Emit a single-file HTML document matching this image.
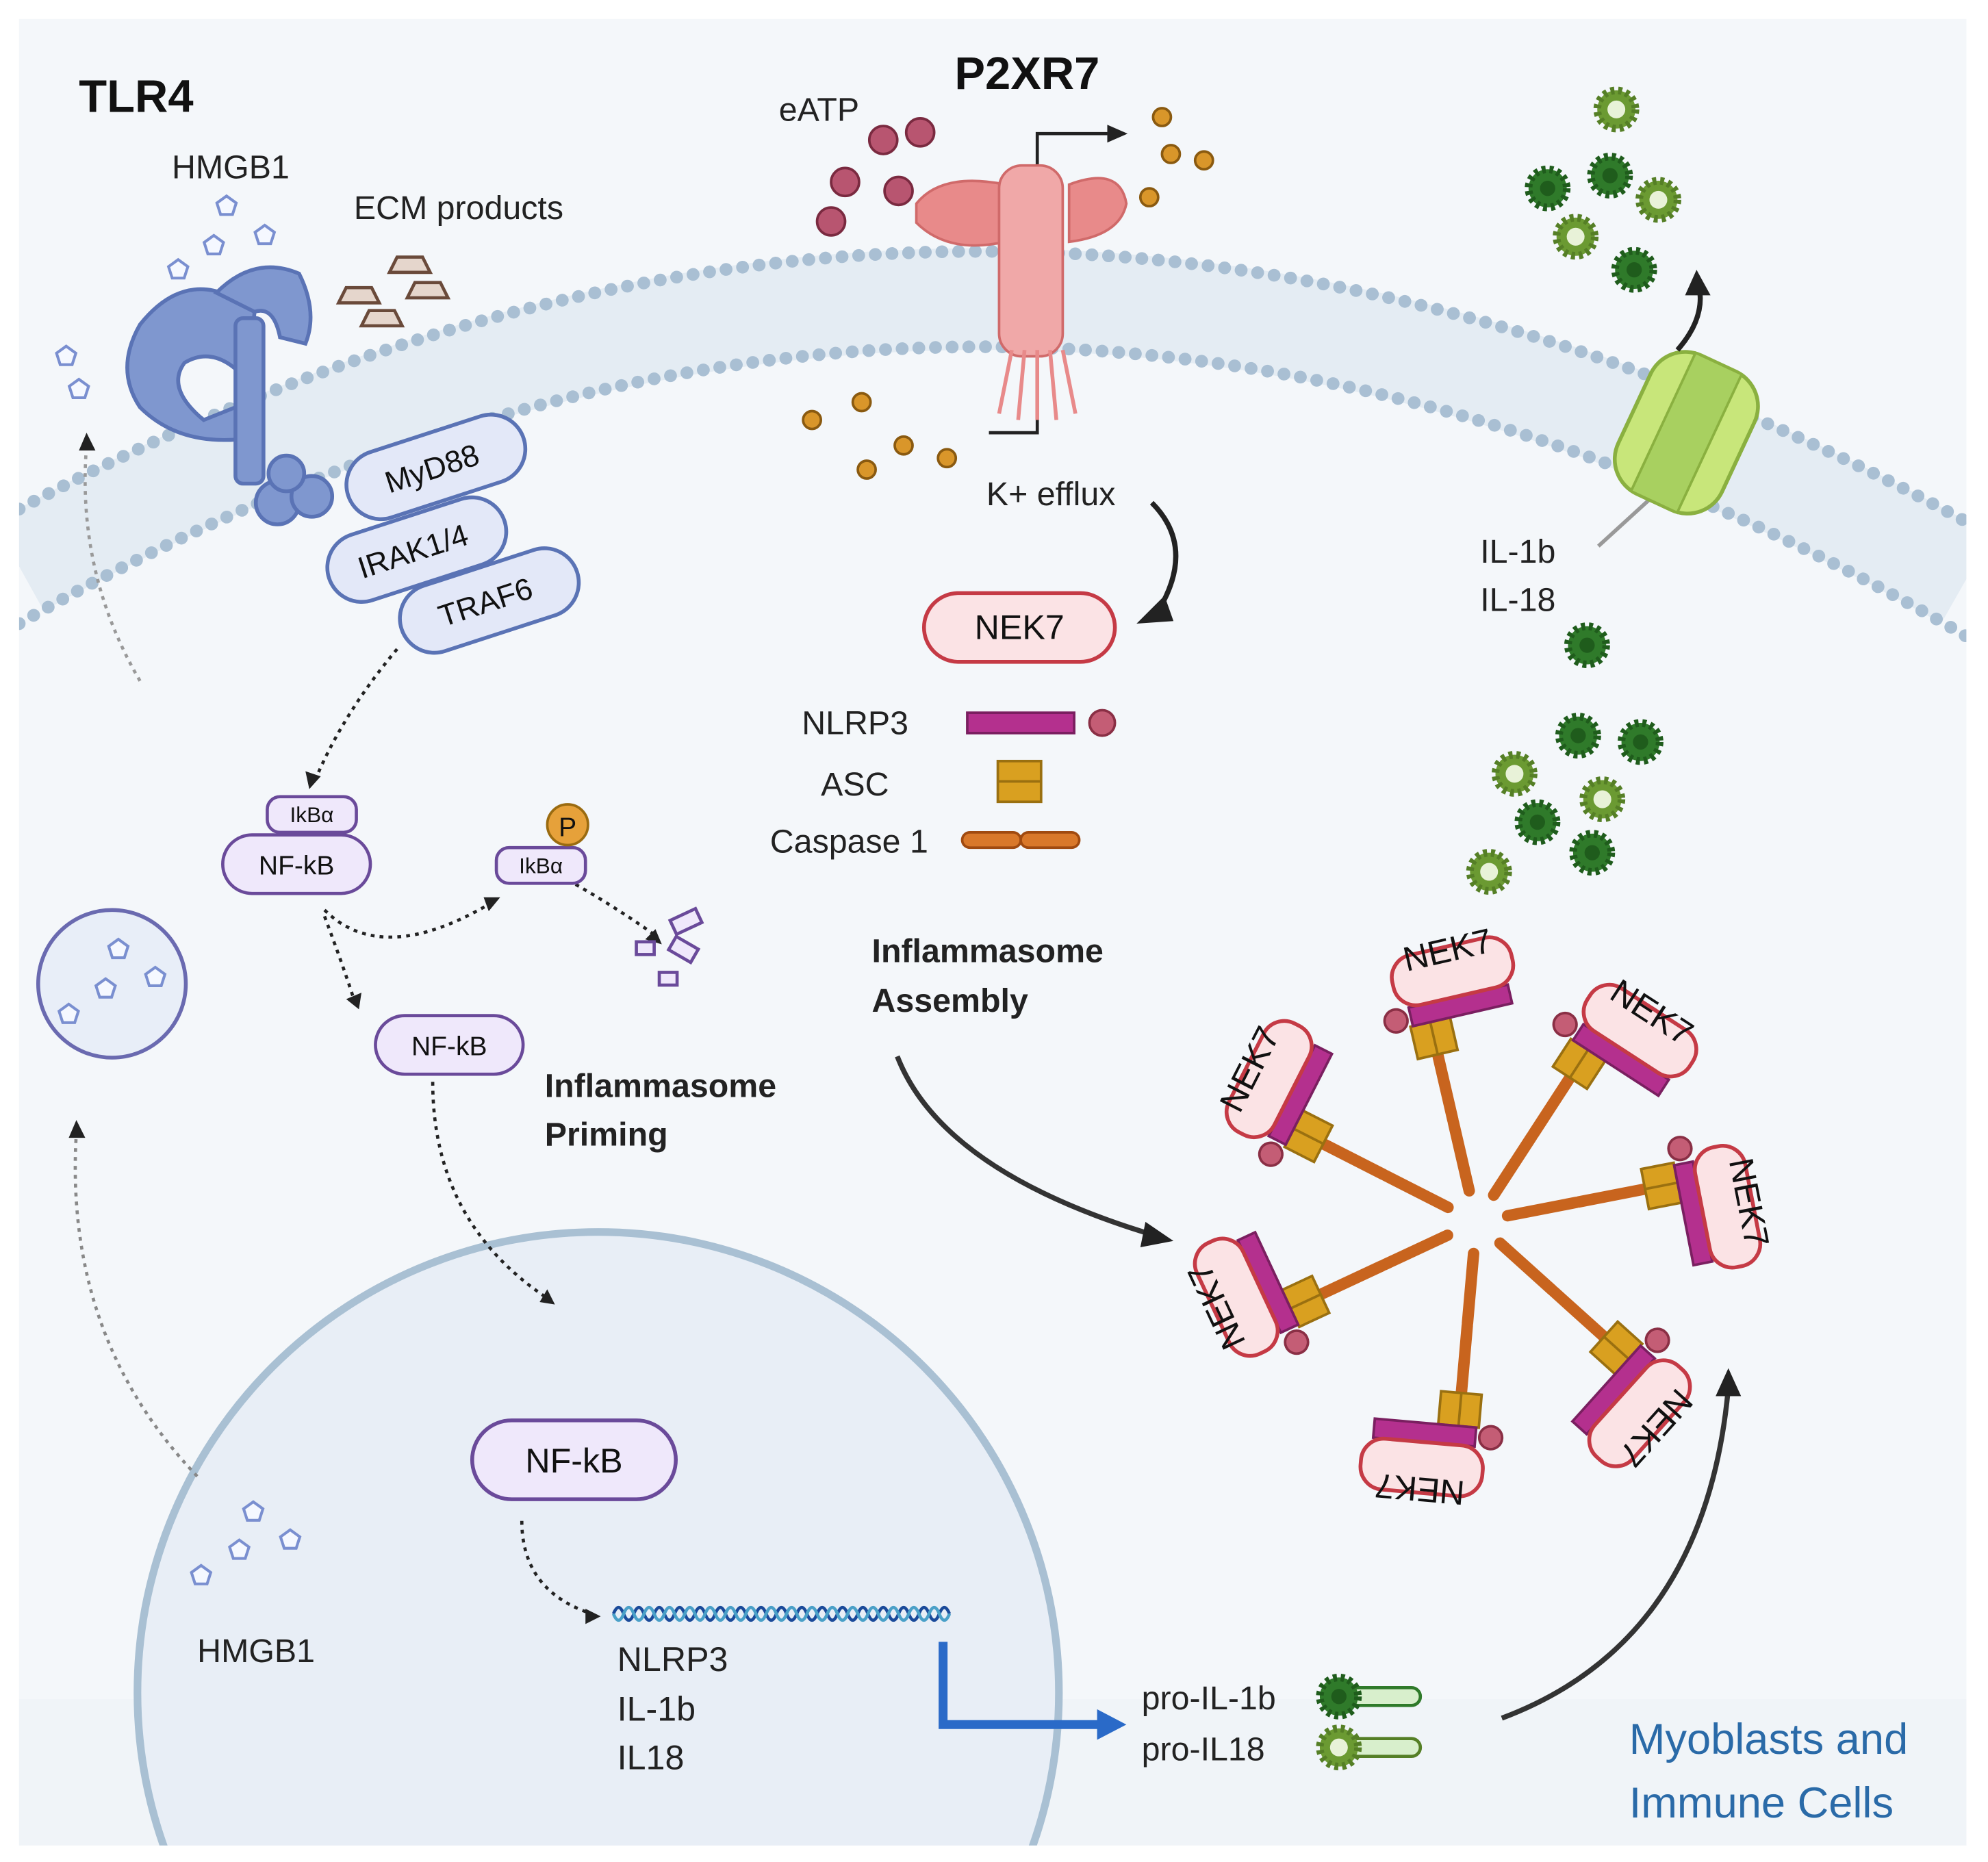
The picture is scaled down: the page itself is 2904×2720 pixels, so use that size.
<!DOCTYPE html>
<html><head><meta charset="utf-8"><style>
html,body{margin:0;padding:0;background:#fff;width:2904px;height:2720px;overflow:hidden;}
svg{display:block;}
text{font-family:"Liberation Sans",sans-serif;}
</style></head><body>
<svg width="2904" height="2720" viewBox="0 0 1562 1463" preserveAspectRatio="none" xmlns="http://www.w3.org/2000/svg">
<defs>
<clipPath id="box"><rect x="15" y="15" width="1530" height="1435"/></clipPath>
<g id="cytoD"><circle r="15" fill="#2f7a2a" stroke="#1f5c1c" stroke-width="6" stroke-dasharray="3 3"/><circle r="6" fill="#1f5c1c"/></g>
<g id="cytoL"><circle r="15" fill="#6b9a32" stroke="#557f26" stroke-width="6" stroke-dasharray="3 3"/><circle r="7" fill="#e8f2d8"/></g>
<g id="pent"><polygon points="0,-8 7.6,-2.5 4.7,6.5 -4.7,6.5 -7.6,-2.5" fill="#f5f8ff" stroke="#7a8fd0" stroke-width="2.2"/></g>
<g id="arm">
  <line x1="25" y1="0" x2="80" y2="0" stroke="#c8641e" stroke-width="9" stroke-linecap="round"/>
  <line x1="82" y1="0" x2="135" y2="0" stroke="#c8641e" stroke-width="9" stroke-linecap="round"/>
  <rect x="135" y="-16" width="26" height="32" fill="#d9a020" stroke="#9a7010" stroke-width="2"/>
  <line x1="135" y1="0" x2="161" y2="0" stroke="#9a7010" stroke-width="2"/>
  <rect x="161" y="-14" width="15" height="80" fill="#b4308e" stroke="#7a1f60" stroke-width="2"/>
  <rect x="176" y="-22" width="40" height="96" rx="18" fill="#fbe3e5" stroke="#c53a45" stroke-width="3"/>
  <circle cx="168" cy="-26" r="9" fill="#c45d75" stroke="#8a2f45" stroke-width="2"/>
  <text transform="translate(204,26) rotate(90)" text-anchor="middle" font-size="27" fill="#111">NEK7</text>
</g>
</defs>
<rect x="15" y="15" width="1530" height="1435" fill="#f4f7fa"/>
<rect x="15" y="1335" width="1530" height="115" fill="#f0f4f8"/>
<g clip-path="url(#box)">
<path d="M15,445 Q780,20 1545,455" fill="none" stroke="#e4ecf3" stroke-width="80"/>
<path d="M15,400 Q780,-10 1545,410" fill="none" stroke="#a9bfd3" stroke-width="10" stroke-linecap="round" stroke-dasharray="0.1 13"/>
<path d="M15,490 Q780,50 1545,500" fill="none" stroke="#a9bfd3" stroke-width="10" stroke-linecap="round" stroke-dasharray="0.1 13"/>
<circle cx="470" cy="1330" r="362" fill="#e8eef6" stroke="#a9c0d3" stroke-width="6"/>
</g>

<text x="62" y="88" font-size="36" font-weight="bold" fill="#111">TLR4</text>
<text x="135" y="140" font-size="26" fill="#222">HMGB1</text>
<text x="278" y="172" font-size="26" fill="#222">ECM products</text>
<use href="#pent" x="178" y="162"/><use href="#pent" x="168" y="193"/><use href="#pent" x="208" y="185"/><use href="#pent" x="140" y="212"/>
<use href="#pent" x="52" y="280"/><use href="#pent" x="62" y="306"/>
<g fill="#e5d6cc" stroke="#6a4a3a" stroke-width="2.5">
<polygon points="312,202 332,202 338,214 306,214"/><polygon points="272,226 292,226 298,238 266,238"/>
<polygon points="326,222 346,222 352,234 320,234"/><polygon points="290,244 310,244 316,256 284,256"/>
</g>
<g fill="#7f97cf" stroke="#5a73b5" stroke-width="3">
<path d="M110,255 Q150,205 200,245 L195,300 Q170,270 145,285 Q130,305 160,330 L185,320 L190,345 Q140,350 110,320 Q90,290 110,255Z"/>
<path d="M170,230 Q200,200 235,215 Q250,245 240,270 L220,265 Q215,240 200,245Z"/>
<rect x="185" y="250" width="22" height="130" rx="6"/>
<circle cx="218" cy="395" r="17"/><circle cx="245" cy="390" r="16"/><circle cx="225" cy="372" r="14"/>
</g>
<g stroke="#5a73b5" stroke-width="3">
<rect x="270" y="340" width="145" height="54" rx="27" fill="#e3e8f8" transform="rotate(-18 342 367)"/>
<rect x="255" y="405" width="145" height="54" rx="27" fill="#e3e8f8" transform="rotate(-18 327 432)"/>
<rect x="312" y="445" width="145" height="54" rx="27" fill="#e3e8f8" transform="rotate(-18 384 472)"/>
</g>
<text transform="translate(342,376) rotate(-18)" text-anchor="middle" font-size="24" fill="#111">MyD88</text>
<text transform="translate(327,441) rotate(-18)" text-anchor="middle" font-size="24" fill="#111">IRAK1/4</text>
<text transform="translate(384,481) rotate(-18)" text-anchor="middle" font-size="24" fill="#111">TRAF6</text>

<g fill="none" stroke="#222" stroke-width="2.5" stroke-dasharray="3 4">
<path d="M312,510 Q270,560 248,612"/>
<path d="M110,535 Q60,450 68,350" stroke="#999"/>
<path d="M255,715 Q300,760 385,710"/>
<path d="M255,720 Q270,760 278,785"/>
<path d="M440,688 Q480,710 515,735"/>
<path d="M340,850 Q340,960 430,1020"/>
<path d="M155,1160 Q50,1050 60,890" stroke="#888"/>
<path d="M410,1195 Q410,1250 465,1268"/>
</g>
<g fill="#222">
<polygon points="243,620 240,606 252,610"/><polygon points="68,340 62,354 75,354"/>
<polygon points="393,705 380,705 384,716"/><polygon points="282,793 272,785 284,780"/>
<polygon points="520,742 507,738 515,730"/><polygon points="436,1025 424,1023 430,1013"/>
<polygon points="60,880 54,894 67,894"/><polygon points="472,1270 460,1264 460,1276"/>
</g>

<rect x="210" y="626" width="70" height="28" rx="10" fill="#efe8fb" stroke="#6a4a9a" stroke-width="2.5"/>
<text x="245" y="646" text-anchor="middle" font-size="17" fill="#111">IkBα</text>
<rect x="175" y="656" width="116" height="46" rx="23" fill="#efe8fb" stroke="#6a4a9a" stroke-width="2.5"/>
<text x="233" y="687" text-anchor="middle" font-size="21" fill="#111">NF-kB</text>
<rect x="390" y="666" width="70" height="28" rx="10" fill="#efe8fb" stroke="#6a4a9a" stroke-width="2.5"/>
<text x="425" y="686" text-anchor="middle" font-size="17" fill="#111">IkBα</text>
<circle cx="446" cy="648" r="16" fill="#e6a13a" stroke="#9a6b10" stroke-width="2"/>
<text x="446" y="657" text-anchor="middle" font-size="21" fill="#111">P</text>
<g fill="#efe8fb" stroke="#6a4a9a" stroke-width="2.5">
<rect x="528" y="718" width="22" height="12" transform="rotate(-25 539 724)"/>
<rect x="500" y="740" width="14" height="10"/><rect x="527" y="740" width="20" height="12" transform="rotate(30 537 746)"/>
<rect x="518" y="764" width="14" height="10"/>
</g>
<rect x="295" y="798" width="116" height="46" rx="23" fill="#efe8fb" stroke="#6a4a9a" stroke-width="2.5"/>
<text x="353" y="829" text-anchor="middle" font-size="21" fill="#111">NF-kB</text>
<text x="428" y="862" font-size="26" font-weight="bold" fill="#222">Inflammasome</text>
<text x="428" y="900" font-size="26" font-weight="bold" fill="#222">Priming</text>

<circle cx="88" cy="773" r="58" fill="#e8eef8" stroke="#6a6ab0" stroke-width="3"/>
<use href="#pent" x="93" y="746"/><use href="#pent" x="83" y="777"/><use href="#pent" x="122" y="768"/><use href="#pent" x="54" y="797"/>

<rect x="371" y="1116" width="160" height="62" rx="31" fill="#efe8fb" stroke="#6a4a9a" stroke-width="3"/>
<text x="451" y="1157" text-anchor="middle" font-size="27" fill="#111">NF-kB</text>
<path d="M482,1268 q4,-10 8,0 t8,0 t8,0 t8,0 t8,0 t8,0 t8,0 t8,0 t8,0 t8,0 t8,0 t8,0 t8,0 t8,0 t8,0 t8,0 t8,0 t8,0 t8,0 t8,0 t8,0 t8,0 t8,0 t8,0 t8,0 t8,0 t8,0 t8,0 t8,0 t8,0 t8,0 t8,0 t8,0" fill="none" stroke="#1a4a9a" stroke-width="2.5"/>
<path d="M482,1268 q4,10 8,0 t8,0 t8,0 t8,0 t8,0 t8,0 t8,0 t8,0 t8,0 t8,0 t8,0 t8,0 t8,0 t8,0 t8,0 t8,0 t8,0 t8,0 t8,0 t8,0 t8,0 t8,0 t8,0 t8,0 t8,0 t8,0 t8,0 t8,0 t8,0 t8,0 t8,0 t8,0 t8,0" fill="none" stroke="#4aa0c8" stroke-width="2.5"/>
<text x="485" y="1313" font-size="27" fill="#222">NLRP3</text>
<text x="485" y="1352" font-size="27" fill="#222">IL-1b</text>
<text x="485" y="1390" font-size="27" fill="#222">IL18</text>
<use href="#pent" x="199" y="1188"/><use href="#pent" x="188" y="1218"/><use href="#pent" x="228" y="1210"/><use href="#pent" x="158" y="1238"/>
<text x="155" y="1306" font-size="26" fill="#222">HMGB1</text>
<path d="M741,1290 L741,1355 L865,1355" fill="none" stroke="#2a6ac8" stroke-width="7"/>
<polygon points="885,1355 862,1343 862,1367" fill="#2a6ac8"/>
<text x="897" y="1343" font-size="26" fill="#222">pro-IL-1b</text>
<text x="897" y="1383" font-size="26" fill="#222">pro-IL18</text>
<rect x="1060" y="1326" width="56" height="14" rx="7" fill="#d8efcc" stroke="#2f7a2a" stroke-width="2.5"/>
<use href="#cytoD" x="1052" y="1333"/>
<rect x="1060" y="1366" width="56" height="14" rx="7" fill="#d8efcc" stroke="#557f26" stroke-width="2.5"/>
<use href="#cytoL" x="1052" y="1373"/>
<text x="1280" y="1378" font-size="34" fill="#2a6aa8">Myoblasts and</text>
<text x="1280" y="1428" font-size="34" fill="#2a6aa8">Immune Cells</text>
<path d="M1180,1350 Q1340,1290 1358,1090" fill="none" stroke="#333" stroke-width="4"/>
<polygon points="1358,1075 1348,1097 1368,1097" fill="#222"/>

<text x="750" y="70" font-size="36" font-weight="bold" fill="#111">P2XR7</text>
<text x="612" y="95" font-size="26" fill="#222">eATP</text>
<g fill="#b85570" stroke="#7a2a40" stroke-width="2">
<circle cx="694" cy="110" r="11"/><circle cx="723" cy="104" r="11"/><circle cx="664" cy="143" r="11"/><circle cx="706" cy="150" r="11"/><circle cx="653" cy="174" r="11"/>
</g>
<g fill="#d9962a" stroke="#8a5a10" stroke-width="2">
<circle cx="913" cy="92" r="7"/><circle cx="920" cy="121" r="7"/><circle cx="946" cy="126" r="7"/><circle cx="903" cy="155" r="7"/>
<circle cx="677" cy="316" r="7"/><circle cx="638" cy="330" r="7"/><circle cx="710" cy="350" r="7"/><circle cx="744" cy="360" r="7"/><circle cx="681" cy="369" r="7"/>
</g>
<path d="M815,150 L815,105 L870,105" fill="none" stroke="#222" stroke-width="2.5"/>
<polygon points="886,105 870,98 870,112" fill="#222"/>
<path d="M777,340 L815,340 L815,300" fill="none" stroke="#222" stroke-width="2.5"/>
<g fill="#e88a8a" stroke="#d06a6a" stroke-width="2">
<path d="M720,160 Q740,135 790,145 L790,190 Q745,200 720,175Z"/>
<path d="M840,145 Q880,130 885,160 Q880,185 840,190Z"/>
<rect x="785" y="130" width="50" height="150" rx="18" fill="#f0a8a8"/>
</g>
<g stroke="#e88a8a" stroke-width="3" fill="none">
<path d="M795,275 L785,325"/><path d="M805,275 L800,330"/><path d="M815,275 L815,330"/><path d="M825,275 L830,330"/><path d="M835,275 L845,325"/>
</g>
<text x="775" y="397" font-size="26" fill="#222">K+ efflux</text>
<path d="M905,395 Q940,430 910,480" fill="none" stroke="#222" stroke-width="4"/>
<polygon points="893,490 915,468 922,488" fill="#222"/>
<rect x="726" y="466" width="150" height="54" rx="27" fill="#fbe3e5" stroke="#c53a45" stroke-width="3"/>
<text x="801" y="502" text-anchor="middle" font-size="27" fill="#111">NEK7</text>
<text x="630" y="577" font-size="26" fill="#222">NLRP3</text>
<rect x="760" y="560" width="84" height="16" fill="#b4308e" stroke="#7a1f60" stroke-width="2"/>
<circle cx="866" cy="568" r="10" fill="#c45d75" stroke="#8a2f45" stroke-width="2"/>
<text x="645" y="625" font-size="26" fill="#222">ASC</text>
<rect x="784" y="598" width="34" height="32" fill="#d9a020" stroke="#9a7010" stroke-width="2"/>
<line x1="784" y1="614" x2="818" y2="614" stroke="#9a7010" stroke-width="2"/>
<text x="605" y="670" font-size="26" fill="#222">Caspase 1</text>
<rect x="756" y="654" width="46" height="12" rx="6" fill="#d9782a" stroke="#a04a10" stroke-width="2"/>
<rect x="802" y="654" width="46" height="12" rx="6" fill="#d9782a" stroke="#a04a10" stroke-width="2"/>
<text x="685" y="756" font-size="26" font-weight="bold" fill="#222">Inflammasome</text>
<text x="685" y="795" font-size="26" font-weight="bold" fill="#222">Assembly</text>
<path d="M705,830 Q740,920 905,970" fill="none" stroke="#333" stroke-width="4"/>
<polygon points="922,975 900,960 896,980" fill="#222"/>

<g transform="translate(1160,960)">
<use href="#arm" transform="rotate(-103)"/><use href="#arm" transform="rotate(-57)"/><use href="#arm" transform="rotate(-11)"/>
<use href="#arm" transform="rotate(42)"/><use href="#arm" transform="rotate(95)"/><use href="#arm" transform="rotate(155)"/><use href="#arm" transform="rotate(-153)"/>
</g>

<use href="#cytoL" x="1270" y="86"/><use href="#cytoD" x="1216" y="148"/><use href="#cytoD" x="1265" y="138"/><use href="#cytoL" x="1303" y="157"/>
<use href="#cytoL" x="1238" y="186"/><use href="#cytoD" x="1284" y="212"/>
<use href="#cytoD" x="1247" y="507"/><use href="#cytoD" x="1240" y="578"/><use href="#cytoD" x="1289" y="583"/><use href="#cytoL" x="1190" y="608"/>
<use href="#cytoL" x="1259" y="628"/><use href="#cytoD" x="1208" y="646"/><use href="#cytoD" x="1251" y="670"/><use href="#cytoL" x="1170" y="685"/>
<g transform="rotate(25 1325 340)">
<line x1="1325" y1="390" x2="1300" y2="450" stroke="#999" stroke-width="3"/>
<rect x="1280" y="280" width="90" height="120" rx="30" fill="#c8e67a" stroke="#8ab040" stroke-width="3"/>
<rect x="1305" y="280" width="40" height="120" fill="#a8d060" stroke="#8ab040" stroke-width="2"/>
</g>
<path d="M1318,275 Q1340,250 1335,225" fill="none" stroke="#222" stroke-width="4"/>
<polygon points="1333,212 1324,232 1344,232" fill="#222"/>
<text x="1163" y="442" font-size="26" fill="#222">IL-1b</text>
<text x="1163" y="480" font-size="26" fill="#222">IL-18</text>
</svg>
</body></html>
